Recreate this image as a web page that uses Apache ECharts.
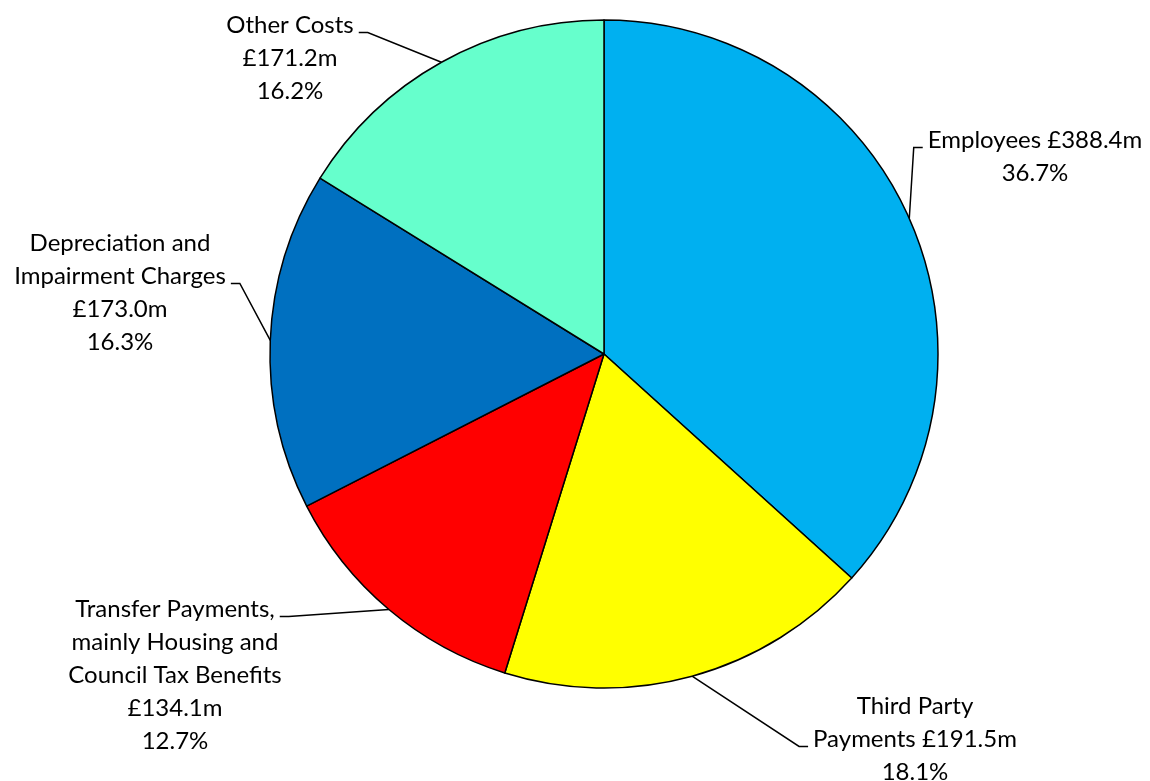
<!DOCTYPE html>
<html><head><meta charset="utf-8">
<script src="https://cdn.jsdelivr.net/npm/echarts@6/dist/echarts.min.js"></script>
<style>html,body{margin:0;padding:0;background:#fff}#c{width:1150px;height:781px}</style>
</head><body><div id="c"></div>
<script>
const categories = ['Employees', 'Third Party\nPayments', 'Transfer Payments,\nmainly Housing and\nCouncil Tax Benefits', 'Depreciation and\nImpairment Charges', 'Other Costs'];
const valueJoiners = [' ', ' ', '\n', '\n', '\n'];
const values = [388.4, 191.5, 134.1, 173.0, 171.2];
const colors = ['#00B0F0', '#FFFF00', '#FF0000', '#0070C0', '#66FFCC'];
// label layout: text block (center x, top y), which text line the leader joins, and on which side
const labelPos = [[1035, 124], [915, 690], [175, 593], [120, 227], [290, 9]];
const leaderLine = [0, 1, 0, 1, 0];
const leaderSide = ['left', 'left', 'right', 'right', 'right'];

const FONT_SIZE = 24, LINE_H = 33, FONT = 'Lato';
const total = values.reduce((a, b) => a + b, 0);
const labelText = i => categories[i] + valueJoiners[i] + '£' + values[i].toFixed(1) + 'm\n' + (values[i] / total * 100).toFixed(1) + '%';

const ctx = document.createElement('canvas').getContext('2d');
ctx.font = FONT_SIZE + 'px ' + FONT;

const chart = echarts.init(document.getElementById('c'), null, {renderer: 'canvas'});
chart.setOption({
  animation: false,
  series: [{
    type: 'pie',
    center: [604, 354],
    radius: [0, 334],
    startAngle: 90,
    clockwise: true,
    data: categories.map((n, i) => ({name: n, value: values[i], itemStyle: {color: colors[i]}})),
    itemStyle: {borderColor: '#000', borderWidth: 1.5},
    label: {
      show: true,
      color: '#000',
      fontFamily: FONT,
      fontSize: FONT_SIZE,
      lineHeight: LINE_H,
      align: 'center',
      overflow: 'none',
      formatter: p => labelText(p.dataIndex)
    },
    labelLine: {show: true, lineStyle: {color: '#000', width: 1.5}, length: 10, length2: 10},
    labelLayout: p => {
      const i = p.dataIndex;
      const [cx, top] = labelPos[i];
      const line = labelText(i).split('\n')[leaderLine[i]];
      const w = ctx.measureText(line).width;
      const y = top + LINE_H * (leaderLine[i] + 0.5) + 7;
      const dir = leaderSide[i] === 'left' ? -1 : 1;
      const endX = cx + dir * (w / 2 + 5);
      const elbowX = endX + dir * 9;
      const res = {x: cx, y: top, align: 'center', verticalAlign: 'top'};
      if (p.labelLinePoints && p.labelLinePoints.length) {
        const e = p.labelLinePoints[0];
        res.labelLinePoints = [[e[0], e[1]], [elbowX, y], [endX, y]];
      }
      return res;
    },
    emphasis: {disabled: true}
  }]
});
</script></body></html>
